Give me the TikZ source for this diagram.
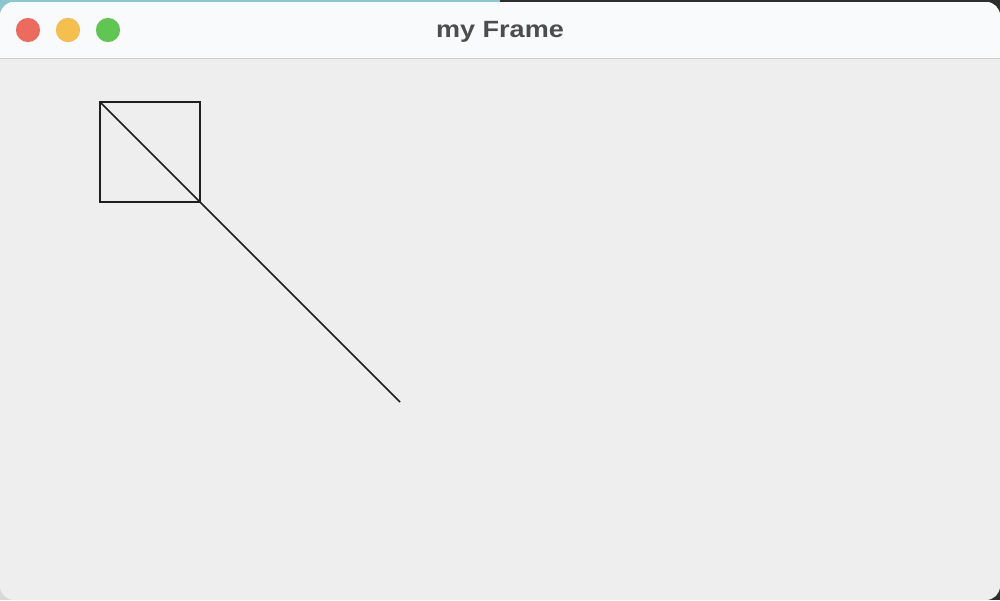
\documentclass[tikz,border=0pt]{standalone}
\usepackage{fontspec}
\setmainfont{Liberation Sans}
\definecolor{titlebg}{HTML}{F9FAFB}
\definecolor{bodybg}{HTML}{EEEEEE}
\definecolor{sepline}{HTML}{D0D0D0}
\definecolor{tlred}{HTML}{ED6A5E}
\definecolor{tlyellow}{HTML}{F5BF4F}
\definecolor{tlgreen}{HTML}{61C554}
\definecolor{titletext}{HTML}{4D4D4D}
\definecolor{deskteal}{HTML}{8DC6CE}
\definecolor{deskdark}{HTML}{2E2E2E}
\definecolor{desklight}{HTML}{D8D8D8}
\definecolor{inkline}{HTML}{1E1E1E}
\begin{document}
\begin{tikzpicture}[x=1pt,y=-1pt,
  light/.style={circle,minimum size=24pt,inner sep=0pt,draw opacity=0.25},
  ink/.style={draw=inkline,line width=1.6pt}]
\useasboundingbox (0,0) rectangle (1000,600);
% desktop behind the corners
\fill[deskteal] (0,0) rectangle (500,20);
\fill[deskteal] (0,0) rectangle (20,60);
\fill[deskdark] (500,0) rectangle (1000,20);
\fill[deskdark] (980,0) rectangle (1000,600);
\fill[desklight] (0,540) rectangle (20,600);
% window
\fill[bodybg,rounded corners=14pt] (0,2) rectangle (1000,600);
\fill[titlebg,rounded corners=14pt] (0,2) rectangle (1000,40);
\fill[titlebg] (0,30) rectangle (1000,58);
\draw[sepline,line width=1.2pt] (0,58.5) -- (1000,58.5);
% traffic lights
\node[light,fill=tlred,draw=tlred!70!black] (close) at (28,30) {};
\node[light,fill=tlyellow,draw=tlyellow!70!black] (min) at (68,30) {};
\node[light,fill=tlgreen,draw=tlgreen!70!black] (max) at (108,30) {};
% title
\node[text=titletext,font=\bfseries\fontsize{23.5}{25}\selectfont,inner sep=0pt] (title) at (500,31.5) {\scalebox{1.15}[1]{my Frame}};
% drawing
\draw[ink] (100,102) rectangle (200,202);
\coordinate (a) at (100,102);
\coordinate (b) at (400,402);
\draw[ink] (a) -- (b);
\end{tikzpicture}
\end{document}
